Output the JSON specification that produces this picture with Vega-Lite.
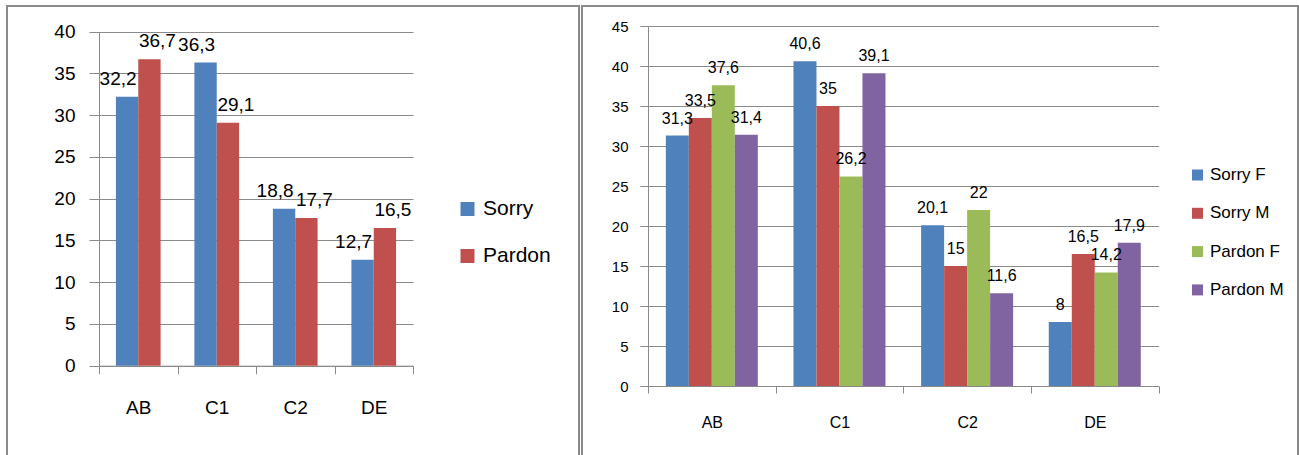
{
  "$schema": "https://vega.github.io/schema/vega-lite/v6.json",
  "padding": {"left": 6, "top": 5, "right": 0, "bottom": -4},
  "spacing": 1,
  "background": "white",
  "config": {
    "view": {"stroke": "#8a8a8a", "strokeWidth": 2},
    "font": "Liberation Sans"
  },
  "resolve": {"scale": {"color": "independent", "xOffset": "independent"}, "legend": {"color": "independent"}},
  "hconcat": [
    {
      "width": 572,
      "height": 452,
      "data": {"values": [
        {"level": "AB", "phrase": "Sorry", "value": 32.2, "label": "32,2"},
        {"level": "AB", "phrase": "Pardon", "value": 36.7, "label": "36,7"},
        {"level": "C1", "phrase": "Sorry", "value": 36.3, "label": "36,3"},
        {"level": "C1", "phrase": "Pardon", "value": 29.1, "label": "29,1"},
        {"level": "C2", "phrase": "Sorry", "value": 18.8, "label": "18,8"},
        {"level": "C2", "phrase": "Pardon", "value": 17.7, "label": "17,7"},
        {"level": "DE", "phrase": "Sorry", "value": 12.7, "label": "12,7"},
        {"level": "DE", "phrase": "Pardon", "value": 16.5, "label": "16,5"}
      ]},
      "encoding": {
        "x": {
          "field": "level", "type": "nominal", "sort": ["AB", "C1", "C2", "DE"],
          "scale": {"range": [92, 406], "paddingInner": 0, "paddingOuter": 0},
          "axis": {
            "orient": "bottom", "offset": -92.3, "title": null, "tickBand": "extent",
            "tickSize": 8, "labelPadding": 25, "labelAngle": 0, "grid": false,
            "domainColor": "#8a8a8a", "tickColor": "#8a8a8a",
            "labelFont": "Liberation Sans", "labelFontSize": 19, "labelColor": "#000000"
          }
        },
        "xOffset": {
          "field": "phrase", "type": "nominal",
          "scale": {"domain": ["Sorry", "Pardon"], "range": [0, 78.5], "paddingInner": 0, "paddingOuter": 0.756}
        },
        "y": {
          "field": "value", "type": "quantitative",
          "scale": {"domain": [0, 40], "range": [359.7, 25.7], "nice": false, "zero": true},
          "axis": {
            "orient": "left", "offset": -92, "title": null, "values": [0, 5, 10, 15, 20, 25, 30, 35, 40],
            "grid": true, "gridColor": "#8a8a8a", "domainColor": "#8a8a8a", "tickColor": "#8a8a8a",
            "tickSize": 10, "labelPadding": 14, "labelFlush": false, "labelOverlap": false,
            "labelFont": "Liberation Sans", "labelFontSize": 19, "labelColor": "#000000"
          }
        }
      },
      "layer": [
        {
          "mark": {"type": "bar"},
          "encoding": {
            "color": {
              "field": "phrase", "type": "nominal",
              "scale": {"domain": ["Sorry", "Pardon"], "range": ["#4F81BD", "#C0504D"]},
              "legend": {
                "title": null, "orient": "none", "legendX": 450, "legendY": 192.5, "padding": 0,
                "symbolType": "square", "symbolSize": 196, "symbolStrokeWidth": 0,
                "labelFont": "Liberation Sans", "labelFontSize": 21, "labelColor": "#000000",
                "labelOffset": 5, "rowPadding": 25
              }
            }
          }
        },
        {
          "transform": [{"filter": "datum.phrase === 'Sorry'"}],
          "mark": {"type": "text", "baseline": "alphabetic", "dy": -12, "dx": -9, "font": "Liberation Sans", "fontSize": 19, "color": "#000000"},
          "encoding": {"text": {"field": "label"}}
        },
        {
          "transform": [{"filter": "datum.phrase === 'Pardon'"}],
          "mark": {"type": "text", "baseline": "alphabetic", "dy": -12, "dx": 8, "font": "Liberation Sans", "fontSize": 19, "color": "#000000"},
          "encoding": {"text": {"field": "label"}}
        }
      ]
    },
    {
      "width": 716,
      "height": 452,
      "data": {"values": [
        {"level": "AB", "group": "Sorry F", "value": 31.3, "label": "31,3"},
        {"level": "AB", "group": "Sorry M", "value": 33.5, "label": "33,5"},
        {"level": "AB", "group": "Pardon F", "value": 37.6, "label": "37,6"},
        {"level": "AB", "group": "Pardon M", "value": 31.4, "label": "31,4"},
        {"level": "C1", "group": "Sorry F", "value": 40.6, "label": "40,6"},
        {"level": "C1", "group": "Sorry M", "value": 35, "label": "35"},
        {"level": "C1", "group": "Pardon F", "value": 26.2, "label": "26,2"},
        {"level": "C1", "group": "Pardon M", "value": 39.1, "label": "39,1"},
        {"level": "C2", "group": "Sorry F", "value": 20.1, "label": "20,1"},
        {"level": "C2", "group": "Sorry M", "value": 15, "label": "15"},
        {"level": "C2", "group": "Pardon F", "value": 22, "label": "22"},
        {"level": "C2", "group": "Pardon M", "value": 11.6, "label": "11,6"},
        {"level": "DE", "group": "Sorry F", "value": 8, "label": "8"},
        {"level": "DE", "group": "Sorry M", "value": 16.5, "label": "16,5"},
        {"level": "DE", "group": "Pardon F", "value": 14.2, "label": "14,2"},
        {"level": "DE", "group": "Pardon M", "value": 17.9, "label": "17,9"}
      ]},
      "encoding": {
        "x": {
          "field": "level", "type": "nominal", "sort": ["AB", "C1", "C2", "DE"],
          "scale": {"range": [66, 576.6], "paddingInner": 0, "paddingOuter": 0},
          "axis": {
            "orient": "bottom", "offset": -72, "title": null, "tickBand": "extent",
            "tickSize": 7, "labelPadding": 21, "labelAngle": 0, "grid": false,
            "domainColor": "#8a8a8a", "tickColor": "#8a8a8a",
            "labelFont": "Liberation Sans", "labelFontSize": 16, "labelColor": "#000000"
          }
        },
        "xOffset": {
          "field": "group", "type": "nominal",
          "scale": {"domain": ["Sorry F", "Sorry M", "Pardon F", "Pardon M"], "range": [0, 127.65], "paddingInner": 0, "paddingOuter": 0.775}
        },
        "y": {
          "field": "value", "type": "quantitative",
          "scale": {"domain": [0, 45], "range": [380, 20], "nice": false, "zero": true},
          "axis": {
            "orient": "left", "offset": -66, "title": null, "values": [0, 5, 10, 15, 20, 25, 30, 35, 40, 45],
            "grid": true, "gridColor": "#8a8a8a", "domainColor": "#8a8a8a", "tickColor": "#8a8a8a",
            "tickSize": 8, "labelPadding": 12, "labelFlush": false, "labelOverlap": false,
            "labelFont": "Liberation Sans", "labelFontSize": 15, "labelColor": "#000000"
          }
        }
      },
      "layer": [
        {
          "mark": {"type": "bar"},
          "encoding": {
            "color": {
              "field": "group", "type": "nominal",
              "scale": {"domain": ["Sorry F", "Sorry M", "Pardon F", "Pardon M"], "range": ["#4F81BD", "#C0504D", "#9BBB59", "#8064A2"]},
              "legend": {
                "title": null, "orient": "none", "legendX": 607, "legendY": 160.5, "padding": 0,
                "symbolType": "square", "symbolSize": 121, "symbolStrokeWidth": 0,
                "labelFont": "Liberation Sans", "labelFontSize": 17, "labelColor": "#000000",
                "labelOffset": 4, "rowPadding": 20.3
              }
            }
          }
        },
        {
          "mark": {"type": "text", "baseline": "alphabetic", "dy": -12, "font": "Liberation Sans", "fontSize": 16, "color": "#000000"},
          "encoding": {"text": {"field": "label"}}
        }
      ]
    }
  ]
}
